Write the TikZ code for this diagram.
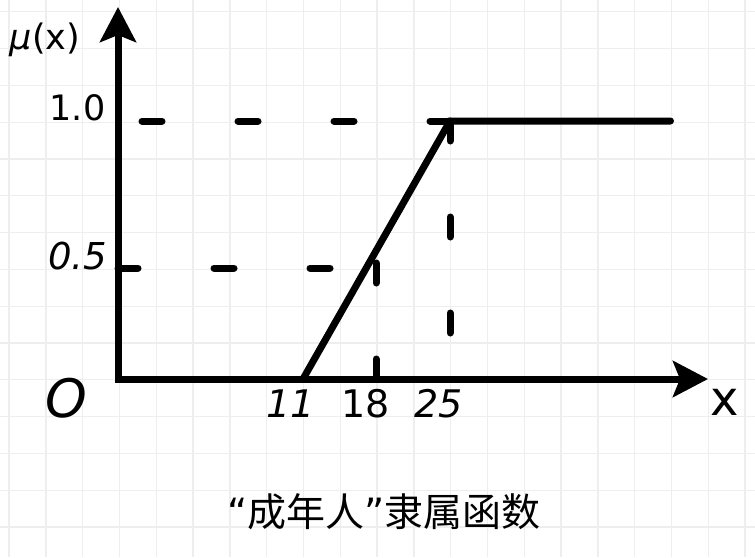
\documentclass[tikz,border=0pt]{standalone}
\usepackage{fontspec}
\setmainfont{DejaVu Sans}
\newfontfamily\cjk{Noto Sans CJK SC}
\newfontfamily\qfont{DejaVu Sans}
\usetikzlibrary{arrows.meta}
\definecolor{gridgray}{RGB}{238,238,238}
\tikzset{
  gridline/.style={draw=gridgray, line width=1.3pt},
  axisline/.style={draw=black, line width=7pt, line join=miter},
  solidline/.style={draw=black, line width=7pt, line cap=round},
  dashline/.style={draw=black, line width=7pt, line cap=round, dash pattern=on 20pt off 76pt},
  lbl/.style={inner sep=0pt, anchor=base, text=black},
  tipstyle/.tip={Stealth[length=35pt, width=36pt, inset=7pt]}
}
\begin{document}
\begin{tikzpicture}[x=1pt, y=-1pt]
\useasboundingbox (0,0) rectangle (755,557);
\fill[white] (0,0) rectangle (755,557);
% grid
\foreach \k in {0,...,20} { \draw[gridline] ({9.1+36.8*\k},0) -- ({9.1+36.8*\k},557); }
\foreach \k in {0,...,14} { \draw[gridline] (0,{11.8+36.8*\k}) -- (755,{11.8+36.8*\k}); }
% coordinates
\coordinate (ytop) at (118,7);
\coordinate (origin) at (118,379);
\coordinate (xend) at (708,379);
\coordinate (r0) at (303,379);
\coordinate (r1) at (450,121);
\coordinate (hend) at (670.5,121);
\coordinate (y1axis) at (118,121);
\coordinate (x25axis) at (450,379);
\coordinate (h5a) at (118,268);
\coordinate (h5b) at (366,268);
\coordinate (v18a) at (376,379);
\coordinate (v18b) at (376,252);
% dashed guides
\draw[dashline] (r1) -- (y1axis);
\draw[dashline] (r1) -- (x25axis);
\draw[dashline] (h5a) -- (h5b);
\draw[dashline] (v18a) -- (v18b);
% axes
\draw[axisline, {tipstyle}-{tipstyle}] (ytop) -- (origin) -- (xend);
% membership function
\draw[solidline] (r0) -- (r1) -- (hend);
% labels
\node[lbl, font=\fontsize{35}{40}\selectfont] (mu) at (45,49) {{\itshape μ}(x)};
\node[lbl, font=\fontsize{35}{40}\selectfont] (one) at (77.5,120) {1.0};
\node[lbl, font=\fontsize{37}{42}\selectfont\itshape] (half) at (77.5,269) {0.5};
\node[lbl, font=\fontsize{53}{60}\selectfont\itshape] (O) at (66,417) {O};
\node[lbl, font=\fontsize{48}{56}\selectfont] (xl) at (725,415) {x};
\node[lbl, font=\fontsize{38}{44}\selectfont\itshape] (t11) at (291,417) {11};
\node[lbl, font=\fontsize{38}{44}\selectfont] (t18) at (366,417) {18};
\node[lbl, font=\fontsize{38}{44}\selectfont\itshape] (t25) at (439,417) {25};
\node[inner sep=0pt, font=\fontsize{39}{45}\selectfont\cjk] (title) at (384,512) {{\qfont “}成年人{\qfont ”}隶属函数};
\end{tikzpicture}
\end{document}
